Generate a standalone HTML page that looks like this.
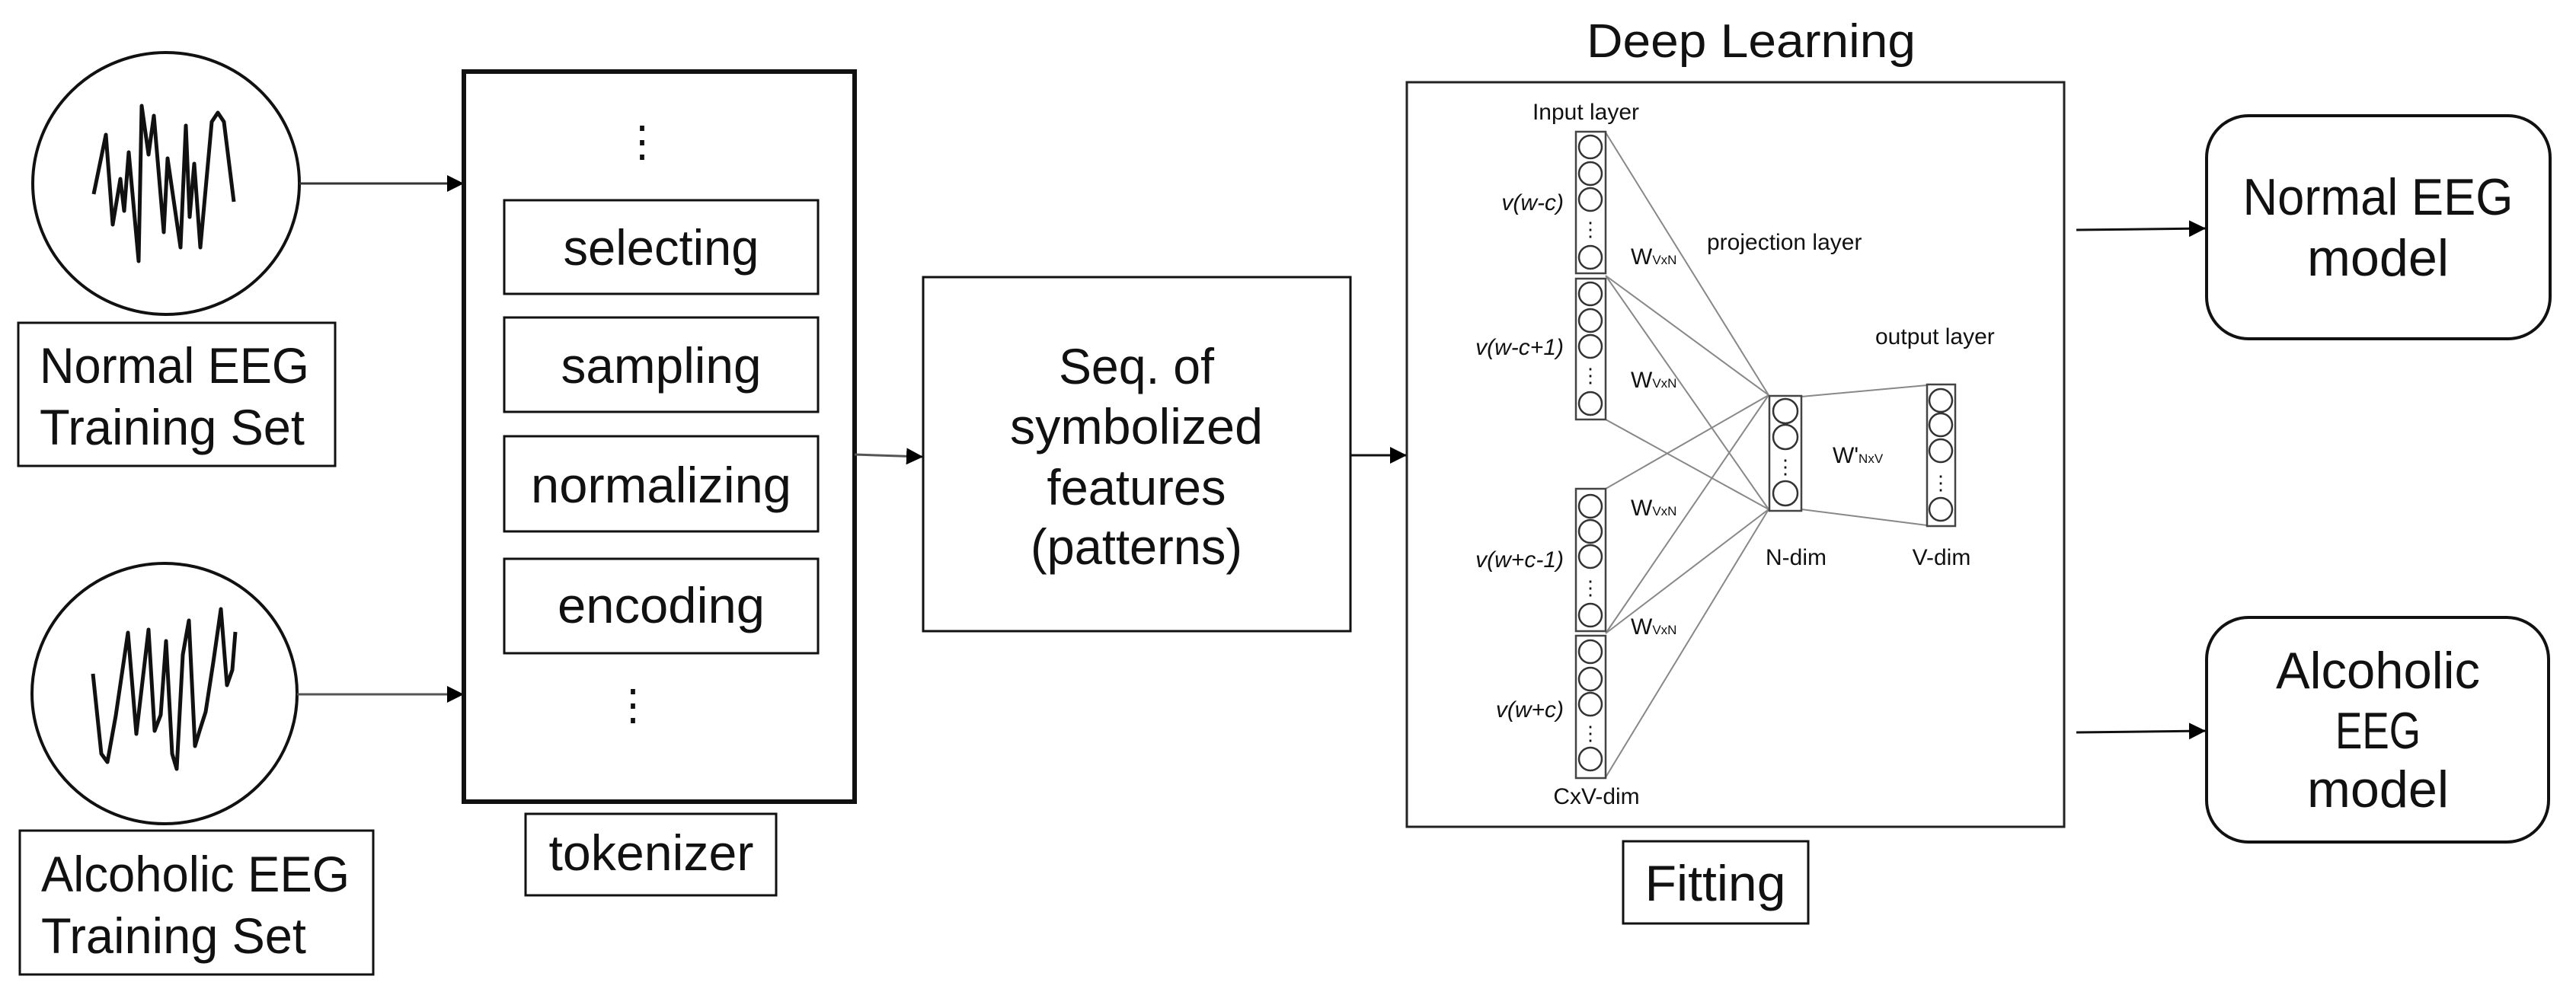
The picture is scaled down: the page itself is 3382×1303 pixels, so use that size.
<!DOCTYPE html>
<html><head><meta charset="utf-8"><style>
html,body{margin:0;padding:0;background:#fff;}
svg{display:block;}
text{font-family:"Liberation Sans",sans-serif;fill:#111;}
</style></head><body>
<svg width="3382" height="1303" viewBox="0 0 3382 1303" xmlns="http://www.w3.org/2000/svg">
<defs>
<marker id="ah" markerWidth="10" markerHeight="10" refX="9" refY="5" orient="auto" markerUnits="userSpaceOnUse" viewBox="0 0 10 10">
<path d="M0,0 L10,5 L0,10 z" fill="#000"/>
</marker>
<marker id="ah2" viewBox="0 0 10 10" refX="10" refY="5" markerWidth="22" markerHeight="22" markerUnits="userSpaceOnUse" orient="auto"><path d="M0,0 L10,5 L0,10 z" fill="#000"/></marker>
</defs>

<!-- EEG circles -->
<ellipse cx="218" cy="241" rx="175" ry="172" fill="none" stroke="#111" stroke-width="4"/>
<polyline fill="none" stroke="#111" stroke-width="5" stroke-linejoin="round" points="123,255 139,177 148,295 158,235 163,277 169,200 182,343 186,139 195,203 202,152 215,305 220,208 237,325 244,165 249,285 255,215 263,325 278,160 286,148 294,160 307,265"/>
<ellipse cx="216" cy="911" rx="174" ry="171" fill="none" stroke="#111" stroke-width="4"/>
<polyline fill="none" stroke="#111" stroke-width="5" stroke-linejoin="round" points="122,885 133,990 141,1001 152,940 168,831 179,964 195,827 203,960 211,939 218,842 226,990 232,1010 240,860 248,815 256,980 262,960 270,935 280,870 290,800 298,900 305,880 309,830"/>

<!-- label boxes -->
<rect x="24" y="424" width="416" height="188" fill="none" stroke="#111" stroke-width="3"/>
<text x="52" y="503" font-size="66" textLength="354" lengthAdjust="spacingAndGlyphs">Normal EEG</text>
<text x="52" y="584" font-size="66" textLength="348" lengthAdjust="spacingAndGlyphs">Training Set</text>
<rect x="26" y="1091" width="464" height="189" fill="none" stroke="#111" stroke-width="3"/>
<text x="54" y="1171" font-size="66" textLength="405" lengthAdjust="spacingAndGlyphs">Alcoholic EEG</text>
<text x="54" y="1252" font-size="66" textLength="348" lengthAdjust="spacingAndGlyphs">Training Set</text>

<!-- arrows to tokenizer -->
<line x1="393" y1="241" x2="609" y2="241" stroke="#333" stroke-width="3" marker-end="url(#ah2)"/>
<line x1="390" y1="912" x2="609" y2="912" stroke="#555" stroke-width="3" marker-end="url(#ah2)"/>

<!-- tokenizer -->
<rect x="609" y="94" width="513" height="959" fill="none" stroke="#111" stroke-width="6"/>
<text x="843" y="205" font-size="56" text-anchor="middle">⋮</text>
<text x="831" y="945" font-size="56" text-anchor="middle">⋮</text>
<g fill="none" stroke="#111" stroke-width="3">
<rect x="662" y="263" width="412" height="123"/>
<rect x="662" y="417" width="412" height="124"/>
<rect x="662" y="573" width="412" height="125"/>
<rect x="662" y="734" width="412" height="124"/>
<rect x="690" y="1069" width="329" height="107"/>
</g>
<g font-size="66" text-anchor="middle">
<text x="868" y="348" textLength="257" lengthAdjust="spacingAndGlyphs">selecting</text>
<text x="868" y="503" textLength="263" lengthAdjust="spacingAndGlyphs">sampling</text>
<text x="868" y="660" textLength="342" lengthAdjust="spacingAndGlyphs">normalizing</text>
<text x="868" y="818" textLength="272" lengthAdjust="spacingAndGlyphs">encoding</text>
<text x="855" y="1143" textLength="269" lengthAdjust="spacingAndGlyphs">tokenizer</text>
</g>

<line x1="1122" y1="597" x2="1212" y2="600" stroke="#555" stroke-width="3" marker-end="url(#ah2)"/>

<!-- Seq box -->
<rect x="1212" y="364" width="561" height="465" fill="none" stroke="#111" stroke-width="3"/>
<g font-size="66" text-anchor="middle">
<text x="1492" y="504" textLength="204" lengthAdjust="spacingAndGlyphs">Seq. of</text>
<text x="1492" y="583" textLength="332" lengthAdjust="spacingAndGlyphs">symbolized</text>
<text x="1492" y="663" textLength="235" lengthAdjust="spacingAndGlyphs">features</text>
<text x="1492" y="741" textLength="278" lengthAdjust="spacingAndGlyphs">(patterns)</text>
</g>

<line x1="1773" y1="598" x2="1847" y2="598" stroke="#111" stroke-width="3" marker-end="url(#ah2)"/>

<!-- Deep learning -->
<text x="2299" y="75" font-size="62" text-anchor="middle" textLength="432" lengthAdjust="spacingAndGlyphs">Deep Learning</text>
<rect x="1847" y="108" width="863" height="978" fill="none" stroke="#222" stroke-width="3"/>
<rect x="2131" y="1105" width="243" height="108" fill="none" stroke="#111" stroke-width="3"/>
<text x="2252" y="1183" font-size="66" text-anchor="middle" textLength="185" lengthAdjust="spacingAndGlyphs">Fitting</text>

<!-- NN lines -->
<g stroke="#888" stroke-width="2" fill="none">
<line x1="2108" y1="174" x2="2322" y2="519"/>
<line x1="2108" y1="362" x2="2322" y2="519"/>
<line x1="2108" y1="362" x2="2322" y2="669"/>
<line x1="2108" y1="551" x2="2322" y2="669"/>
<line x1="2108" y1="642" x2="2322" y2="519"/>
<line x1="2108" y1="832" x2="2322" y2="519"/>
<line x1="2108" y1="832" x2="2322" y2="669"/>
<line x1="2108" y1="1021" x2="2322" y2="669"/>
<line x1="2365" y1="521" x2="2530" y2="506"/>
<line x1="2365" y1="669" x2="2530" y2="690"/>
</g>
<g fill="none" stroke="#444" stroke-width="2.5">
<rect x="2069" y="173" width="39" height="186"/>
<rect x="2069" y="366" width="39" height="185"/>
<rect x="2069" y="642" width="39" height="187"/>
<rect x="2069" y="835" width="39" height="187"/>
<rect x="2323" y="520" width="42" height="151"/>
<rect x="2530" y="505" width="37" height="186"/>
</g>
<g fill="none" stroke="#333" stroke-width="2.5">
<ellipse cx="2088" cy="193" rx="15" ry="15"/><ellipse cx="2088" cy="228" rx="15" ry="15"/><ellipse cx="2088" cy="262" rx="15" ry="15"/><ellipse cx="2088" cy="338" rx="15" ry="15"/>
<ellipse cx="2088" cy="386" rx="15" ry="15"/><ellipse cx="2088" cy="421" rx="15" ry="15"/><ellipse cx="2088" cy="455" rx="15" ry="15"/><ellipse cx="2088" cy="530" rx="15" ry="15"/>
<ellipse cx="2088" cy="665" rx="15" ry="15"/><ellipse cx="2088" cy="698" rx="15" ry="15"/><ellipse cx="2088" cy="731" rx="15" ry="15"/><ellipse cx="2088" cy="808" rx="15" ry="15"/>
<ellipse cx="2088" cy="856" rx="15" ry="15"/><ellipse cx="2088" cy="892" rx="15" ry="15"/><ellipse cx="2088" cy="925" rx="15" ry="15"/><ellipse cx="2088" cy="997" rx="15" ry="15"/>
<ellipse cx="2344" cy="540" rx="16" ry="16"/><ellipse cx="2344" cy="574" rx="16" ry="16"/><ellipse cx="2344" cy="648" rx="16" ry="16"/>
<ellipse cx="2548" cy="526" rx="15" ry="15"/><ellipse cx="2548" cy="558" rx="15" ry="15"/><ellipse cx="2548" cy="592" rx="15" ry="15"/><ellipse cx="2548" cy="669" rx="15" ry="15"/>
</g>
<g font-size="26" text-anchor="middle" fill="#333">
<text x="2088" y="310">⋮</text><text x="2088" y="502">⋮</text><text x="2088" y="781">⋮</text><text x="2088" y="972">⋮</text>
<text x="2344" y="622">⋮</text><text x="2548" y="643">⋮</text>
</g>
<g font-size="30" fill="#333">
<text x="2082" y="157" text-anchor="middle">Input layer</text>
<text x="2053" y="276" text-anchor="end" font-style="italic">v(w-c)</text>
<text x="2053" y="466" text-anchor="end" font-style="italic">v(w-c+1)</text>
<text x="2053" y="745" text-anchor="end" font-style="italic">v(w+c-1)</text>
<text x="2053" y="942" text-anchor="end" font-style="italic">v(w+c)</text>
<text x="2096" y="1056" text-anchor="middle">CxV-dim</text>
<text x="2241" y="328">projection layer</text>
<text x="2462" y="452">output layer</text>
<text x="2358" y="742" text-anchor="middle">N-dim</text>
<text x="2549" y="742" text-anchor="middle">V-dim</text>
<text x="2141" y="347">W<tspan font-size="17">VxN</tspan></text>
<text x="2141" y="509">W<tspan font-size="17">VxN</tspan></text>
<text x="2141" y="677">W<tspan font-size="17">VxN</tspan></text>
<text x="2141" y="833">W<tspan font-size="17">VxN</tspan></text>
<text x="2406" y="608">W'<tspan font-size="17">NxV</tspan></text>
</g>

<!-- output arrows -->
<line x1="2726" y1="302" x2="2896" y2="300" stroke="#111" stroke-width="3" marker-end="url(#ah2)"/>
<line x1="2726" y1="962" x2="2896" y2="960" stroke="#111" stroke-width="3" marker-end="url(#ah2)"/>

<rect x="2897" y="152" width="451" height="293" rx="55" ry="55" fill="none" stroke="#111" stroke-width="4"/>
<text x="3122" y="282" font-size="68" text-anchor="middle" textLength="355" lengthAdjust="spacingAndGlyphs">Normal EEG</text>
<text x="3122" y="362" font-size="68" text-anchor="middle" textLength="186" lengthAdjust="spacingAndGlyphs">model</text>
<rect x="2897" y="811" width="449" height="295" rx="55" ry="55" fill="none" stroke="#111" stroke-width="4"/>
<text x="3122" y="904" font-size="68" text-anchor="middle" textLength="268" lengthAdjust="spacingAndGlyphs">Alcoholic</text>
<text x="3122" y="983" font-size="68" text-anchor="middle" textLength="112" lengthAdjust="spacingAndGlyphs">EEG</text>
<text x="3122" y="1060" font-size="68" text-anchor="middle" textLength="186" lengthAdjust="spacingAndGlyphs">model</text>
</svg>
</body></html>
